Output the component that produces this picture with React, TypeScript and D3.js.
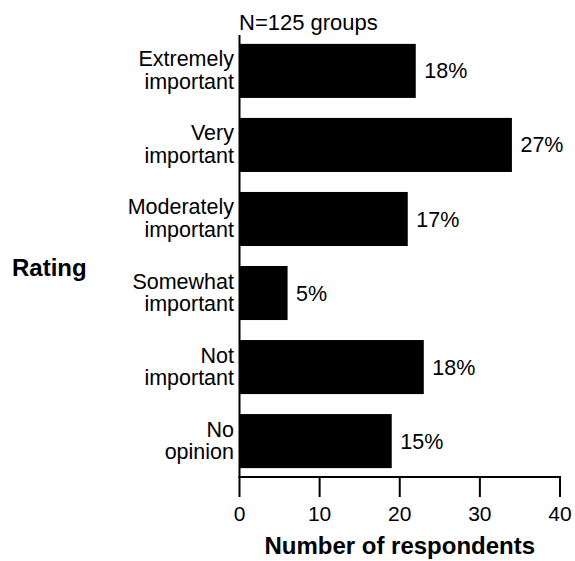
import React from "react";
import * as d3 from "d3";

const categories = [
  "Extremely important",
  "Very important",
  "Moderately important",
  "Somewhat important",
  "Not important",
  "No opinion",
];
const labelLines = [
  ["Extremely", "important"],
  ["Very", "important"],
  ["Moderately", "important"],
  ["Somewhat", "important"],
  ["Not", "important"],
  ["No", "opinion"],
];
const counts = [22, 34, 21, 6, 23, 19];
const percentLabels = ["18%", "27%", "17%", "5%", "18%", "15%"];
const xTicks = [0, 10, 20, 30, 40];
const title = "N=125 groups";
const xTitle = "Number of respondents";
const yTitle = "Rating";

const W = 575;
const H = 561;
const FONT = "'Liberation Sans', Arial, Helvetica, sans-serif";

export default function App() {
  const x = d3.scaleLinear().domain([0, 40]).range([239.5, 560]);
  const y = d3
    .scaleBand<string>()
    .domain(categories)
    .range([35, 477])
    .paddingInner(0.27)
    .paddingOuter(0.12);
  const axisY = 477;
  const bw = y.bandwidth();

  return (
    <svg
      width={W}
      height={H}
      style={{ position: "absolute", left: 0, top: 0, background: "#fff" }}
      fontFamily={FONT}
    >
      <rect x={0} y={0} width={W} height={H} fill="#fff" />
      {/* bars */}
      {categories.map((c, i) => (
        <rect
          key={c}
          x={x(0)}
          y={y(c)}
          width={x(counts[i]) - x(0)}
          height={bw}
          fill="#000"
        />
      ))}
      {/* percent labels */}
      {categories.map((c, i) => (
        <text
          key={c + "p"}
          x={x(counts[i]) + 8.5}
          y={(y(c) as number) + bw / 2}
          dy="0.35em"
          fontSize={21.5}
          fill="#000"
        >
          {percentLabels[i]}
        </text>
      ))}
      {/* category labels */}
      {categories.map((c, i) => (
        <text
          key={c + "l"}
          x={234}
          y={(y(c) as number) + bw / 2}
          fontSize={21.5}
          textAnchor="end"
          fill="#000"
        >
          <tspan x={234} dy={-4.5}>{labelLines[i][0]}</tspan>
          <tspan x={234} dy={22.7}>{labelLines[i][1]}</tspan>
        </text>
      ))}
      {/* y axis line */}
      <line x1={x(0)} x2={x(0)} y1={35} y2={axisY} stroke="#000" strokeWidth={2} />
      {/* x axis */}
      <line x1={x(0) - 1} x2={x(40) + 1} y1={axisY} y2={axisY} stroke="#000" strokeWidth={2} />
      {xTicks.map((t) => (
        <g key={t}>
          <line x1={x(t)} x2={x(t)} y1={axisY} y2={axisY + 20} stroke="#000" strokeWidth={2} />
          <text x={x(t)} y={521} textAnchor="middle" fontSize={21} fill="#000">
            {t}
          </text>
        </g>
      ))}
      {/* titles */}
      <text x={239} y={30} fontSize={22} fill="#000">
        {title}
      </text>
      <text x={(x(0) + x(40)) / 2} y={554} textAnchor="middle" fontSize={24} fontWeight="bold" fill="#000">
        {xTitle}
      </text>
      <text x={12} y={276} fontSize={24} fontWeight="bold" fill="#000">
        {yTitle}
      </text>
    </svg>
  );
}
